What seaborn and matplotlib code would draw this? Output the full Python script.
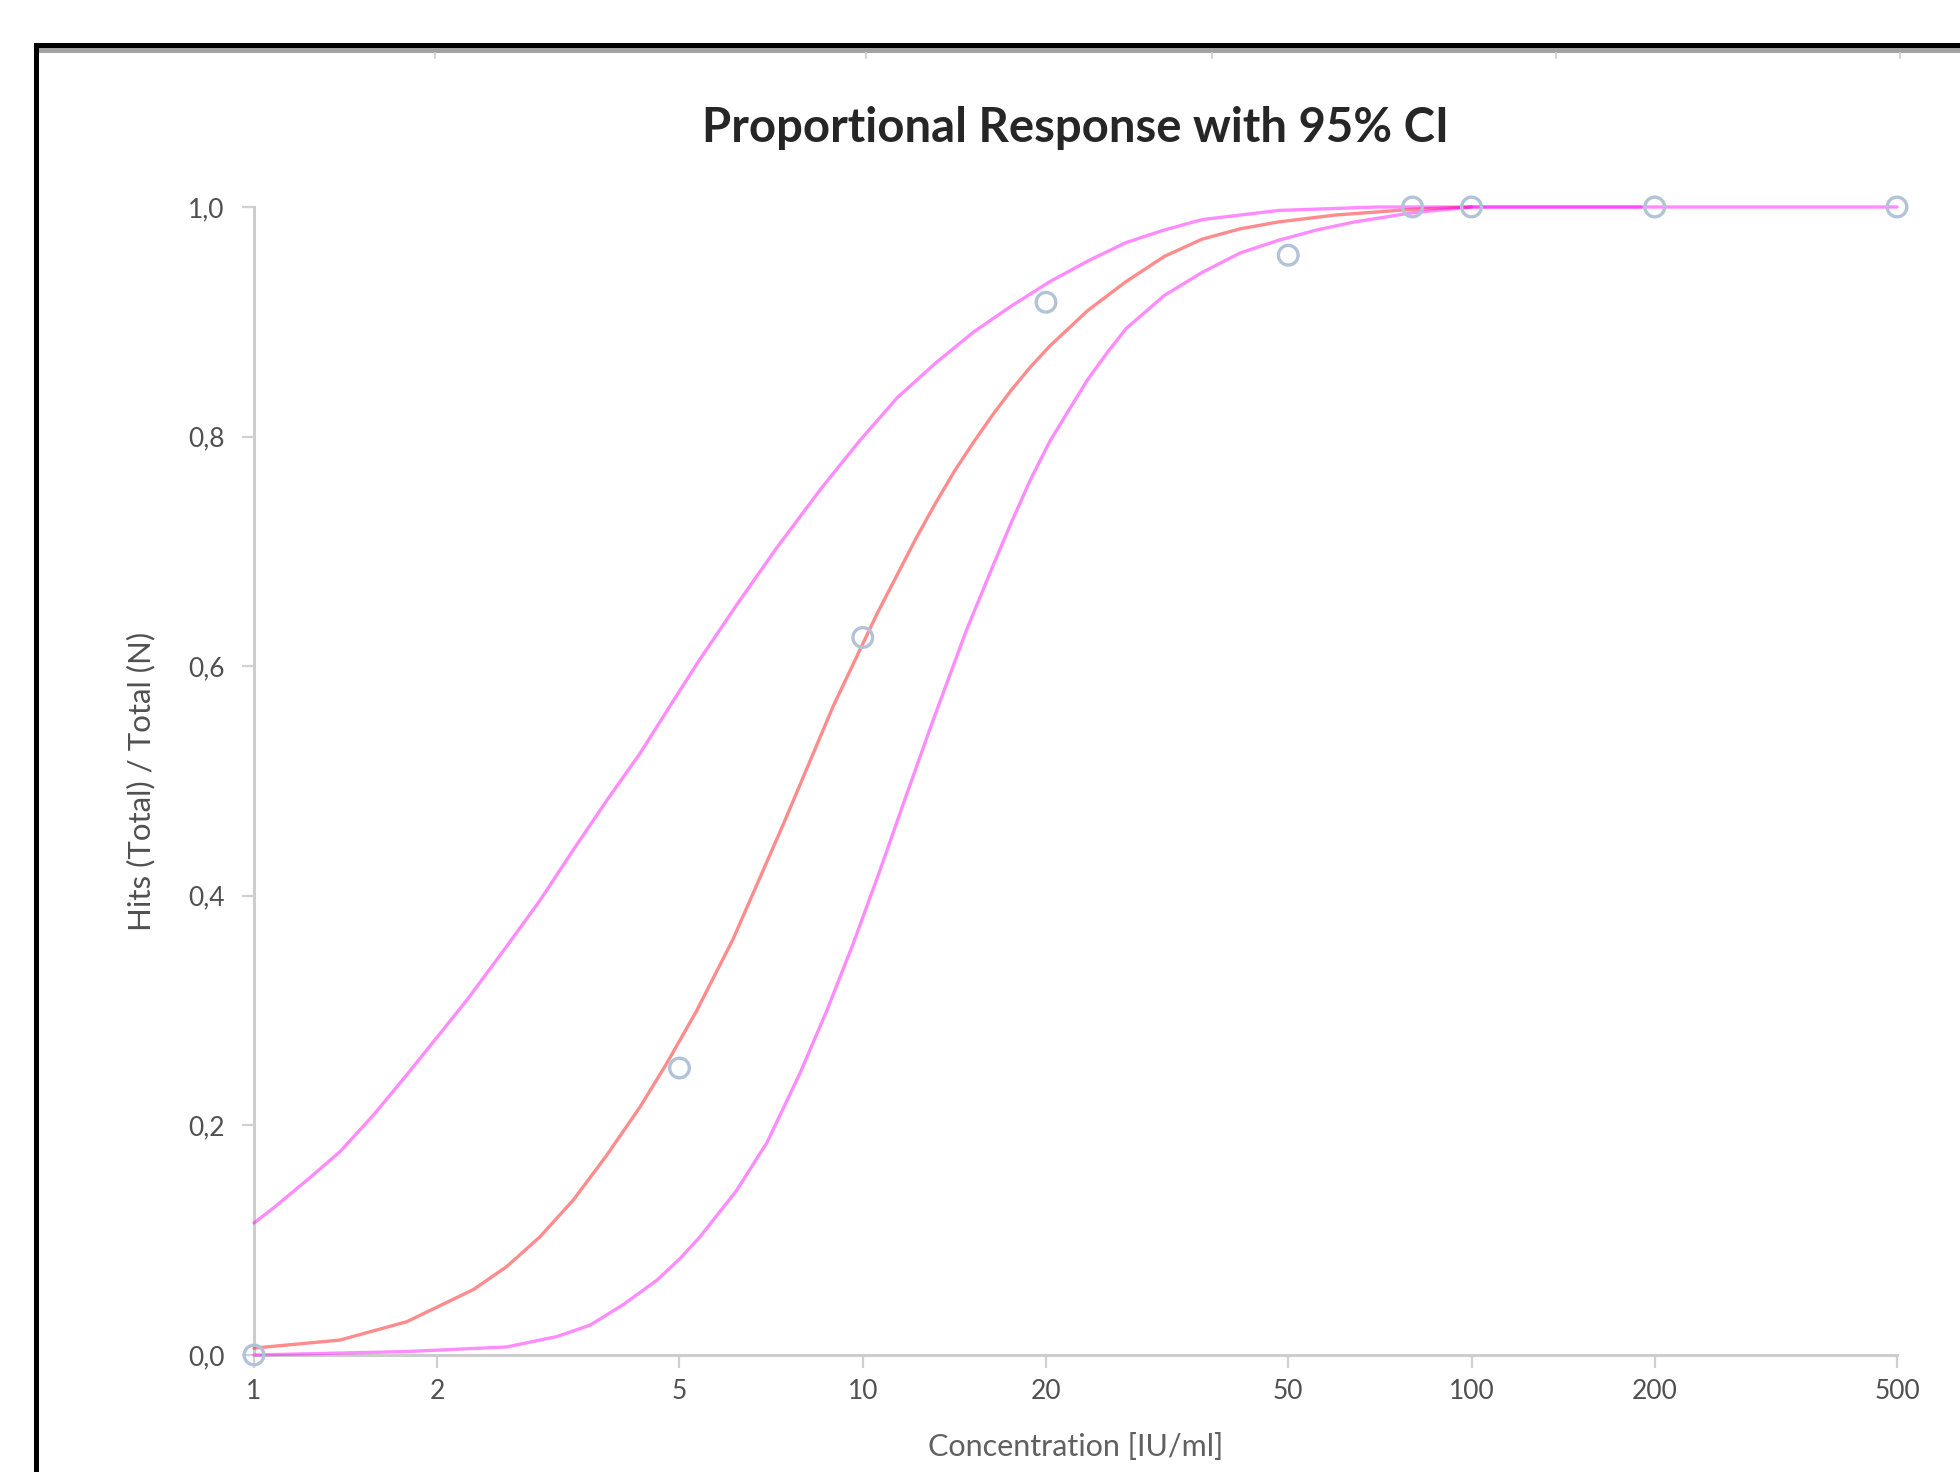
import matplotlib
matplotlib.use("Agg")
import matplotlib.pyplot as plt
import seaborn as sns
from matplotlib.patches import Rectangle
from matplotlib.lines import Line2D
from matplotlib.ticker import NullLocator

# ---------------- data ----------------
conc_obs = [1, 5, 10, 20, 50, 80, 100, 200, 500]
prop_obs = [0.0, 0.25, 0.625, 0.917, 0.958, 1.0, 1.0, 1.0, 1.0]

fit_x = [1, 1.384, 1.782, 2.293, 2.601, 2.95, 3.346, 3.797, 4.306, 4.764, 5.337,
         6.12, 7.4, 8.94, 10.54, 12.25, 13.17, 14.15, 15.2, 16.35, 17.57, 18.88,
         20.3, 23.44, 27.07, 31.3, 36.1, 41.7, 48.2, 59.8, 80, 100]
fit_y = [0.006, 0.013, 0.029, 0.057, 0.077, 0.103, 0.135, 0.174, 0.216, 0.254, 0.300,
         0.362, 0.462, 0.565, 0.645, 0.712, 0.742, 0.770, 0.795, 0.819, 0.841, 0.861,
         0.879, 0.910, 0.935, 0.957, 0.972, 0.981, 0.987, 0.993, 0.998, 1.0]

upper_x = [1, 1.076, 1.22, 1.384, 1.571, 1.782, 2.021, 2.236, 2.601, 2.95, 3.346,
           3.797, 4.306, 4.886, 5.37, 6.2, 7.22, 8.55, 9.87, 11.4, 13.17, 15.2,
           17.57, 20.3, 23.44, 27.07, 31.3, 36.1, 48.2, 70, 100, 200, 500]
upper_y = [0.115, 0.128, 0.152, 0.177, 0.209, 0.244, 0.280, 0.309, 0.356, 0.396, 0.440,
           0.483, 0.524, 0.570, 0.604, 0.653, 0.703, 0.755, 0.796, 0.834, 0.864, 0.891,
           0.914, 0.935, 0.953, 0.969, 0.980, 0.989, 0.997, 1.0, 1.0, 1.0, 1.0]

lower_x = [1, 1.782, 2.601, 3.143, 3.565, 4.044, 4.587, 5.01, 5.404, 6.2, 6.96, 7.88,
           8.73, 9.64, 10.67, 11.8, 13.05, 14.82, 16.35, 17.57, 18.88, 20.3, 21.8,
           23.44, 25.2, 27.07, 31.3, 36.1, 41.7, 48.2, 55.7, 64.3, 80, 100, 190]
lower_y = [0.0, 0.003, 0.007, 0.016, 0.026, 0.044, 0.065, 0.084, 0.103, 0.143, 0.185, 0.245,
           0.300, 0.358, 0.422, 0.488, 0.553, 0.632, 0.687, 0.726, 0.763, 0.796, 0.823,
           0.850, 0.873, 0.894, 0.923, 0.943, 0.960, 0.971, 0.980, 0.987, 0.995, 1.0, 1.0]

x_ticks = [1, 2, 5, 10, 20, 50, 100, 200, 500]
x_tick_labels = ["1", "2", "5", "10", "20", "50", "100", "200", "500"]
y_ticks = [0.0, 0.2, 0.4, 0.6, 0.8, 1.0]
y_tick_labels = ["0,0", "0,2", "0,4", "0,6", "0,8", "1,0"]

title_text = "Proportional Response with 95% CI"
x_label = "Concentration [IU/ml]"
y_label = "Hits (Total) / Total (N)"

# ---------------- style ----------------
sns.set_theme(style="white")
plt.rcParams['font.family'] = ['Lato', 'DejaVu Sans']

W, H = 1960, 1472
fig = plt.figure(figsize=(W / 100, H / 100), dpi=100)
fig.patch.set_facecolor("white")

x0, x1, y_top, y_bot = 254, 1897, 207, 1355
ax = fig.add_axes([x0 / W, 1 - y_bot / H, (x1 - x0) / W, (y_bot - y_top) / H])
ax.set_xscale("log")

line_kw = dict(ax=ax, estimator=None, sort=False, linewidth=2.4, alpha=0.45, clip_on=False)
sns.lineplot(x=fit_x, y=fit_y, color="#ff0000", zorder=3, **line_kw)
sns.lineplot(x=upper_x, y=upper_y, color="#ff00ff", zorder=3, **line_kw)
sns.lineplot(x=lower_x, y=lower_y, color="#ff00ff", zorder=3, **line_kw)

sns.scatterplot(x=conc_obs, y=prop_obs, ax=ax, s=200, facecolors="none",
                edgecolors="#b3c3d7", linewidths=2.4, zorder=5, clip_on=False)

ax.set_xlim(1, 500)
ax.set_ylim(0, 1)
ax.xaxis.set_minor_locator(NullLocator())
ax.set_xticks(x_ticks)
ax.set_xticklabels(x_tick_labels)
ax.set_yticks(y_ticks)
ax.set_yticklabels(y_tick_labels)

for s in ["top", "right"]:
    ax.spines[s].set_visible(False)
for s in ["left", "bottom"]:
    ax.spines[s].set_color("#cdcdcd")
    ax.spines[s].set_linewidth(2.2)

ax.tick_params(axis="both", which="major", direction="out", length=9, width=1.6,
               color="#d0d0d0", labelcolor="#505050", labelsize=19)
ax.tick_params(axis="x", pad=8, bottom=True)
ax.tick_params(axis="y", pad=12, left=True)
ax.grid(False)

ax.set_xlabel(x_label, fontsize=22, color="#606060", va="center")
ax.xaxis.set_label_coords(0.5, (y_bot - 1447) / (y_bot - y_top))
ax.set_ylabel(y_label, fontsize=22.5, color="#505050", va="center")
ax.yaxis.set_label_coords((141 - x0) / (x1 - x0), 0.5)

fig.text(1075 / W, 1 - 128 / H, title_text, ha="center", va="center",
         fontsize=34, fontweight="bold", color="#262626")

# screenshot frame remnants (black border top/left and grey strip)
fig.add_artist(Rectangle((34 / W, 1 - 48 / H), 1 - 34 / W, 5 / H, transform=fig.transFigure,
                         facecolor="black", edgecolor="none"))
fig.add_artist(Rectangle((34 / W, 0), 5 / W, 1 - 43 / H, transform=fig.transFigure,
                         facecolor="black", edgecolor="none"))
fig.add_artist(Rectangle((39 / W, 1 - 53 / H), 1 - 39 / W, 5 / H, transform=fig.transFigure,
                         facecolor="#a2a2a2", edgecolor="none"))
for px in [435, 866, 1212, 1556, 1900]:
    fig.add_artist(Line2D([px / W, px / W], [1 - 53 / H, 1 - 58 / H], transform=fig.transFigure,
                          color="#d4d4d4", linewidth=1.5))

fig.savefig("out.png", dpi=100)
